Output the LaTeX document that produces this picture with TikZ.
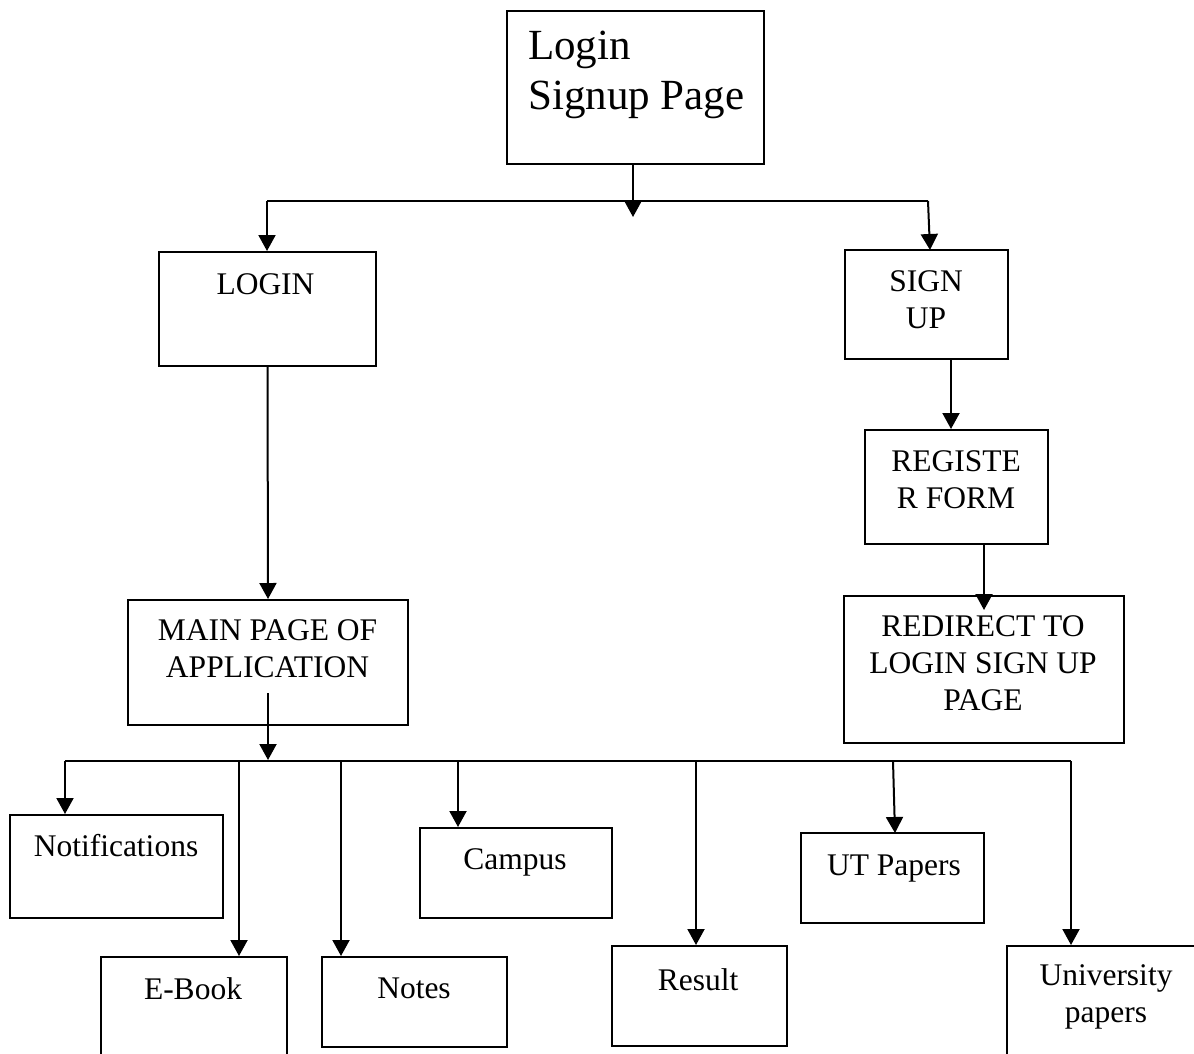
\documentclass[tikz,border=0pt]{standalone}
\usepackage{fontspec}
\setmainfont{Liberation Serif}
\usetikzlibrary{arrows.meta}
\begin{document}
\begin{tikzpicture}[x=1pt,y=-1pt,
  box/.style={draw=black, line width=2pt, rectangle, inner sep=0pt},
  lbl/.style={inner sep=0pt, align=center, anchor=north, font=\fontsize{31.5}{37}\selectfont},
  ttl/.style={inner sep=0pt, align=left, anchor=north west, font=\fontsize{43}{50}\selectfont},
  conn/.style={line width=2pt, draw=black},
  arr/.style={conn, -{Triangle[width=17pt,length=16pt]}}]
\useasboundingbox (0,0) rectangle (1194,1053);
% boxes
\node[box, minimum width=257pt, minimum height=153pt] (top) at (635.5,87.5) {};
\node[box, minimum width=217pt, minimum height=114pt] (login) at (267.5,309) {};
\node[box, minimum width=163pt, minimum height=109pt] (signup) at (926.5,304.5) {};
\node[box, minimum width=183pt, minimum height=114pt] (register) at (956.5,487) {};
\node[box, minimum width=280pt, minimum height=147pt] (redirect) at (984,669.5) {};
\node[box, minimum width=280pt, minimum height=125pt] (main) at (268,662.5) {};
\node[box, minimum width=213pt, minimum height=103pt] (notif) at (116.5,866.5) {};
\node[box, minimum width=186pt, minimum height=123pt] (ebook) at (194,1018.5) {};
\node[box, minimum width=185pt, minimum height=90pt] (notes) at (414.5,1002) {};
\node[box, minimum width=192pt, minimum height=90pt] (campus) at (516,873) {};
\node[box, minimum width=175pt, minimum height=100pt] (result) at (699.5,996) {};
\node[box, minimum width=183pt, minimum height=90pt] (ut) at (892.5,878) {};
\node[box, minimum width=203pt, minimum height=134pt] (univ) at (1108.5,1013) {};
% texts
\node[ttl] (tTop) at (528,31) {Login\\Signup Page};
\node[lbl] (tLogin) at (265.5,273) {LOGIN};
\node[lbl] (tSign) at (926,270) {SIGN\\UP};
\node[lbl] (tReg) at (956,450) {REGISTE\\R FORM};
\node[lbl] (tRedir) at (983,615) {REDIRECT TO\\LOGIN SIGN UP\\PAGE};
\node[lbl] (tMain) at (267.5,619) {MAIN PAGE OF\\APPLICATION};
\node[lbl] (tNotif) at (116,834) {Notifications};
\node[lbl] (tEbook) at (193,977) {E-Book};
\node[lbl] (tNotes) at (414,978) {Notes};
\node[lbl] (tCampus) at (515,848) {Campus};
\node[lbl] (tResult) at (698,968) {Result};
\node[lbl] (tUT) at (894,855) {UT Papers};
\node[lbl] (tUniv) at (1106,964) {University\\papers};
% junction coordinates
\coordinate (xTop) at (633,0);
\coordinate (tipTop) at (633,217);
\coordinate (jL) at (267,201);
\coordinate (jR) at (928,201);
\coordinate (sTip) at (930,250);
\coordinate (xS) at (951,0);
\coordinate (xR) at (984,0);
\coordinate (rTip) at (984,610);
\coordinate (mStart) at (268,693);
\coordinate (mTip) at (268,760);
\coordinate (bL) at (65,761);
\coordinate (bR) at (1071,761);
\coordinate (bE) at (239,761);
\coordinate (bN) at (341,761);
\coordinate (bNx) at (375,761);
\coordinate (bC) at (458,761);
\coordinate (bRs) at (696,761);
\coordinate (bU) at (893,761);
\coordinate (uTip) at (895,833);
% connectors
\draw[arr] (top.south -| xTop) -- (tipTop);
\draw[conn] (jL) -- (jR);
\draw[arr] (jL) -- (login.north -| jL);
\draw[arr] (jR) -- (sTip);
\draw[arr] (login.south) -- (main.north);
\draw[arr] (signup.south -| xS) -- (register.north -| xS);
\draw[arr] (register.south -| xR) -- (rTip);
\draw[arr] (mStart) -- (mTip);
\draw[conn] (bL) -- (bR);
\draw[conn, line width=2.6pt] (bN) -- (bNx);
\draw[arr] (bL) -- (notif.north -| bL);
\draw[arr] (bE) -- (ebook.north -| bE);
\draw[arr] (bN) -- (notes.north -| bN);
\draw[arr] (bC) -- (campus.north -| bC);
\draw[arr] (bRs) -- (result.north -| bRs);
\draw[arr] (bU) -- (uTip);
\draw[arr] (bR) -- (univ.north -| bR);
\end{tikzpicture}
\end{document}
